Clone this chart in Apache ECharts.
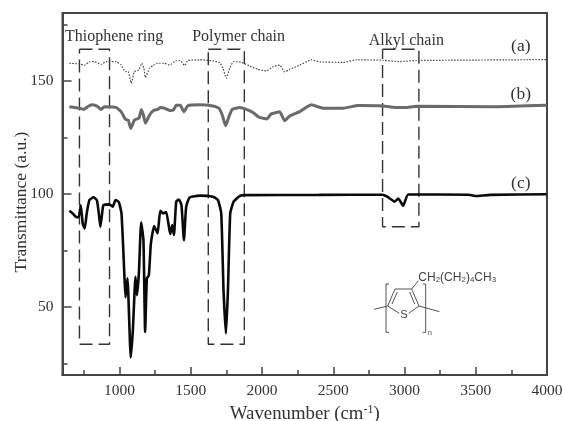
<!DOCTYPE html>
<html><head><meta charset="utf-8">
<style>html,body{margin:0;padding:0;background:#fff}#c{width:563px;height:421px}</style>
<script src="https://cdn.jsdelivr.net/npm/echarts@6/dist/echarts.min.js"></script>
</head><body><div id="c"></div>
<script>
const curveA=[[648,157.8],[719,157.5],[754,156.9],[789,158.4],[824,158.5],[871,157.3],[906,158.5],[976,158.5],[1011,157],[1042,154.1],[1061,154.1],[1082,149],[1105,154.1],[1136,154.9],[1157,157.8],[1171,155.6],[1182,151.5],[1211,155.6],[1239,157],[1269,157.8],[1316,157.8],[1351,157],[1393,158.8],[1426,159],[1457,156.8],[1480,159],[1562,159.3],[1656,158.8],[1702,158.1],[1726,155.6],[1749,151.2],[1773,155.6],[1801,158.5],[1855,158.2],[1913,156.6],[1972,155.1],[2030,154.4],[2077,156.3],[2124,157],[2159,154],[2194,155.1],[2265,157],[2347,159.3],[2405,158.4],[2569,158.2],[2663,159.3],[2850,159.1],[2967,158.5],[3085,159],[3998,159.4]];
const curveB=[[648,138.6],[719,137.9],[749,137.4],[784,138.9],[812,139.4],[848,138.6],[871,137.4],[894,138.6],[976,138.3],[1011,136.4],[1042,133],[1061,132.7],[1079,129],[1105,132.7],[1136,133.5],[1154,137.4],[1168,134.9],[1182,131.3],[1211,134.9],[1239,136.9],[1269,137.4],[1286,138.2],[1316,137.9],[1356,136.9],[1379,137.2],[1398,139.2],[1426,139.2],[1452,136.4],[1480,139.1],[1562,139.4],[1656,138.9],[1698,137.9],[1721,134.9],[1745,130.2],[1768,134.2],[1791,137.4],[1843,138.2],[1890,137.4],[1937,136],[1979,133.9],[2007,133.5],[2035,133.2],[2065,135.4],[2124,136.3],[2159,132.4],[2194,134.5],[2265,136.4],[2347,139.4],[2429,137.9],[2569,137.9],[2675,139.1],[2850,138.9],[2956,138.2],[3003,138.2],[3085,138.8],[3647,138.6],[3998,139.2]];
const curveC=[[648,92.6],[672,91.4],[700,89.7],[714,89.7],[728,95],[742,87],[756,84.7],[770,91.4],[789,97.3],[817,98.5],[841,97.3],[855,91.4],[866,85.5],[878,91.4],[887,95],[930,95.4],[953,94.4],[972,97.3],[995,96.5],[1014,91.4],[1033,66],[1042,54.3],[1056,62.7],[1079,27.7],[1094,40],[1112,63.4],[1122,55.3],[1136,65],[1152,87.5],[1168,79.6],[1180,39],[1192,62.7],[1206,64],[1220,78],[1243,85.8],[1267,82.6],[1286,92.6],[1304,91.4],[1328,92],[1356,82.3],[1370,86.3],[1382,81.9],[1398,96.6],[1417,97.6],[1435,95],[1452,79.6],[1468,94.4],[1492,98.5],[1562,99.3],[1656,98.8],[1691,97.3],[1714,91.4],[1730,57.5],[1747,38.3],[1761,57.5],[1777,91.4],[1801,96.6],[1843,99.1],[1876,99.5],[2400,99.6],[2846,99.7],[2879,98.8],[2932,96.6],[2956,98],[2991,94.8],[3026,99.8],[3450,99.7],[3495,99.1],[3600,99.6],[3998,99.9]];
const boxes=[
  {name:'Thiophene ring',x0:719,x1:930,y0:33.6,y1:164,tx:962,ty:169.5},
  {name:'Polymer chain',x0:1623,x1:1876,y0:33.6,y1:164,tx:1836,ty:169.5},
  {name:'Alkyl chain',x0:2846,x1:3101,y0:85.5,y1:164,tx:3013,ty:167.8}
];
const curveTags=[{t:'(a)',x:3816,y:165.2},{t:'(b)',x:3816,y:144},{t:'(c)',x:3816,y:104.7}];
const xMajor=[1000,1500,2000,2500,3000,3500,4000];
const xMinor=[750,1250,1750,2250,2750,3250,3750];
const yMajor=[50,100,150];
const yMinor=[25,75,125,175];
const serif='"Liberation Serif"',ink='#333',frame='#444';
const z=(x,y)=>[300+x/3,230+y/3];
const seg=(a,b,c,d,w)=>({type:'line',shape:{x1:z(a,b)[0],y1:z(a,b)[1],x2:z(c,d)[0],y2:z(c,d)[1]},style:{stroke:'#555',lineWidth:w||1}});
const molecule=[
 seg(222,238,263,228),seg(263,228,285,177),seg(285,177,335,177),seg(335,177,357,228),seg(357,228,418,245),
 seg(263,228,298,250),seg(357,228,326,250),seg(335,177,355,152),seg(276,222,292,186),seg(344,222,329,186),
 seg(267,162,258,162),seg(258,162,258,307),seg(258,307,267,307),
 seg(368,162,377,162),seg(377,162,377,307),seg(377,307,368,307),
 {type:'text',style:{x:z(312,256)[0],y:z(312,256)[1],text:'S',align:'center',verticalAlign:'middle',font:'11px "Liberation Sans"',fill:'#444'}},
 {type:'text',style:{x:z(384,308)[0],y:z(384,308)[1],text:'n',verticalAlign:'middle',font:'7px "Liberation Sans"',fill:'#444'}},
 {type:'text',style:{x:z(355,143)[0],y:z(355,143)[1],verticalAlign:'middle',text:'CH{s|2}(CH{s|2}){s|4}CH{s|3}',font:'12px "Liberation Sans"',fill:'#444',
   rich:{s:{font:'8px "Liberation Sans"',fill:'#444',verticalAlign:'bottom',padding:[5,0,0,0]}}}}
];
const boxSeries=boxes.map(b=>({type:'line',symbol:'none',silent:true,z:1,
  data:[[b.x0,b.y1],[b.x1,b.y1],[b.x1,b.y0],[b.x0,b.y0],[b.x0,b.y1]],
  lineStyle:{color:ink,width:1.4,type:[13,6]}}));
const line=(d,c,w,t)=>({type:'line',data:d,symbol:'none',smooth:0.15,z:3,lineStyle:{color:c,width:w,type:t||'solid'}});
const tags=(d,s)=>({type:'scatter',symbolSize:0,z:4,data:d,itemStyle:{opacity:1},label:{show:true,position:'inside',formatter:p=>p.data.name,fontFamily:serif,fontSize:s,color:ink}});
const plain=v=>String(v);
const opt={
  animation:false,backgroundColor:'#fff',
  grid:{left:62.5,right:16,top:13,bottom:46,outerBoundsMode:'none',show:true,borderColor:frame,borderWidth:2,backgroundColor:'transparent'},
  xAxis:[
   {type:'value',min:600,max:4000,position:'bottom',splitLine:{show:false},
    name:'Wavenumber (cm{u|-1})',nameLocation:'middle',nameGap:26,
    nameTextStyle:{fontFamily:serif,fontSize:18.8,color:ink,rich:{u:{fontFamily:serif,fontSize:12,color:ink,verticalAlign:'top',padding:[0,0,8,0]}}},
    axisLine:{lineStyle:{color:frame,width:2}},
    axisTick:{inside:true,length:8,lineStyle:{color:frame,width:1.5},customValues:xMajor},
    axisLabel:{customValues:xMajor,formatter:plain,margin:8,fontFamily:serif,fontSize:15.5,color:ink}},
   {type:'value',min:600,max:4000,position:'bottom',splitLine:{show:false},axisLine:{show:false},
    axisTick:{inside:true,length:5,lineStyle:{color:frame,width:1.5},customValues:xMinor},
    axisLabel:{show:false}}
  ],
  yAxis:[
   {type:'value',min:20,max:180,position:'left',splitLine:{show:false},
    name:'Transmittance (a.u.)',nameLocation:'middle',nameGap:32,nameMoveOverlap:false,
    nameTextStyle:{fontFamily:serif,fontSize:17.5,color:ink,padding:[0,16,0,0]},
    axisLine:{lineStyle:{color:frame,width:2}},
    axisTick:{inside:true,length:9,lineStyle:{color:frame,width:1.5},customValues:yMajor},
    axisLabel:{customValues:yMajor,formatter:plain,margin:9,fontFamily:serif,fontSize:15.5,color:ink}},
   {type:'value',min:20,max:180,position:'left',splitLine:{show:false},axisLine:{show:false},
    axisTick:{inside:true,length:5,lineStyle:{color:frame,width:1.5},customValues:yMinor},
    axisLabel:{show:false}}
  ],
  series:[...boxSeries,
    line(curveA,'#444',1.2,[1.5,1.5]),
    line(curveB,'#6a6a6a',3),
    line(curveC,'#0a0a0a',2.6),
    tags(boxes.map(b=>({name:b.name,value:[b.tx,b.ty]})),16),
    tags(curveTags.map(c=>({name:c.t,value:[c.x,c.y]})),17.5)
  ],
  graphic:{elements:molecule}
};
echarts.init(document.getElementById('c'),null,{renderer:'canvas'}).setOption(opt);
</script></body></html>
